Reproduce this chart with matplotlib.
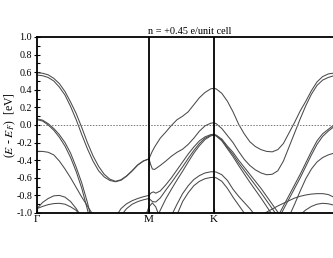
import matplotlib
matplotlib.use('Agg')
import matplotlib.pyplot as plt

plt.rcParams['font.family'] = ['Liberation Serif', 'DejaVu Serif']
plt.rcParams['mathtext.fontset'] = 'stix'
plt.rcParams['axes.unicode_minus'] = False

# high-symmetry points along the path (units of |Gamma-M|)
k_points = [0.0, 1.0, 1.577, 2.732]
k_labels = ['Γ', 'M', 'K']
title = 'n = +0.45 e/unit cell'

# bands: k values and energies (eV)
k_a1 = [0, .05, .10, .15, .20, .25, .30, .35, .40, .45, .50, .55, .60, .65, .70, .75, .80, .85, .90, .95, 1.0,
        1.025, 1.05, 1.10, 1.15, 1.20, 1.25, 1.30, 1.35, 1.40, 1.45, 1.50, 1.55, 1.577,
        1.60, 1.65, 1.70, 1.75, 1.80, 1.85, 1.90, 1.95, 2.00, 2.05, 2.10, 2.15, 2.20, 2.25, 2.30, 2.35,
        2.40, 2.45, 2.50, 2.55, 2.60, 2.65, 2.70, 2.732]
e_a1 = [.594, .588, .57, .53, .47, .38, .26, .13, -.03, -.20, -.35, -.47, -.56, -.615, -.64, -.622, -.578, -.518, -.452, -.408, -.385,
        -.31, -.25, -.15, -.08, -.005, .06, .10, .15, .23, .31, .37, .41, .417,
        .41, .36, .27, .15, .01, -.10, -.19, -.245, -.28, -.30, -.305, -.28, -.21, -.09, .03, .16,
        .27, .39, .49, .55, .58, .59, .594, .594]

k_a2 = [0, .05, .10, .15, .20, .25, .30, .35, .40, .45, .50, .55, .60, .65, .70, .75, .80, .85, .90, .95, 1.0,
        1.015, 1.03, 1.05, 1.10, 1.15, 1.20, 1.25, 1.30, 1.35, 1.40, 1.45, 1.50, 1.55, 1.577,
        1.60, 1.65, 1.70, 1.75, 1.80, 1.85, 1.90, 1.95, 2.00, 2.05, 2.10, 2.15, 2.20, 2.25, 2.30, 2.35,
        2.40, 2.45, 2.50, 2.55, 2.60, 2.65, 2.70, 2.732]
e_a2 = [.568, .56, .54, .50, .43, .34, .21, .06, -.11, -.27, -.41, -.52, -.59, -.63, -.645, -.628, -.582, -.522, -.455, -.41, -.385,
        -.45, -.50, -.505, -.46, -.41, -.355, -.31, -.275, -.22, -.15, -.07, -.01, .02, .025,
        .015, -.04, -.12, -.20, -.30, -.39, -.46, -.51, -.545, -.565, -.56, -.52, -.41, -.25, -.09, .07,
        .22, .35, .45, .51, .54, .56, .567, .568]

# dark bands near Gamma
k_b2a_gm = [0, .05, .10, .15, .20, .25, .30, .35, .40, .45, .50]
e_b2a_gm = [.07, .055, .015, -.04, -.11, -.20, -.32, -.48, -.66, -.88, -1.14]
e_b2b_gm = [.06, .045, .0, -.06, -.14, -.24, -.37, -.53, -.72, -.96, -1.2]
k_b3_gm = [0, .05, .10, .15, .20, .25, .30, .35, .40, .45, .50, .55]
e_b3_gm = [-.30, -.30, -.31, -.34, -.41, -.50, -.60, -.71, -.82, -.92, -1.02, -1.12]

k_b2a_kg = [2.10, 2.15, 2.20, 2.25, 2.30, 2.35, 2.40, 2.45, 2.50, 2.55, 2.60, 2.65, 2.70, 2.732]
e_b2a_kg = [-1.15, -1.04, -.92, -.80, -.68, -.56, -.43, -.30, -.18, -.10, -.05, 0.0, .05, .07]
k_b2b_kg = [2.15, 2.20, 2.25, 2.30, 2.35, 2.40, 2.45, 2.50, 2.55, 2.60, 2.65, 2.70, 2.732]
e_b2b_kg = [-1.08, -.96, -.84, -.72, -.60, -.47, -.34, -.22, -.13, -.07, -.02, .04, .06]
k_b3_kg = [2.25, 2.30, 2.35, 2.40, 2.45, 2.50, 2.55, 2.60, 2.65, 2.70, 2.732]
e_b3_kg = [-1.04, -.90, -.75, -.61, -.50, -.42, -.37, -.34, -.32, -.305, -.30]

# small humps near Gamma
k_hump_gm = [0, .05, .10, .15, .20, .25, .30, .35, .40]
e_hu_gm = [-.95, -.88, -.835, -.805, -.80, -.82, -.87, -.95, -1.05]
e_hl_gm = [-.95, -.925, -.905, -.893, -.89, -.90, -.93, -.97, -1.05]
k_hu_kg = [2.0, 2.05, 2.10, 2.15, 2.20, 2.25, 2.30, 2.35, 2.40, 2.45, 2.50, 2.55, 2.60, 2.65, 2.70, 2.732]
e_hu_kg = [-1.03, -.99, -.955, -.92, -.89, -.86, -.83, -.81, -.795, -.785, -.78, -.78, -.79, -.82, -.88, -.95]
k_hl_kg = [2.35, 2.40, 2.45, 2.50, 2.55, 2.60, 2.65, 2.70, 2.732]
e_hl_kg = [-1.02, -.965, -.925, -.90, -.89, -.895, -.91, -.93, -.95]

# bands meeting at K around -0.11 eV
k_d1 = [.70, .75, .80, .85, .90, .95, 1.0, 1.02, 1.04, 1.06, 1.10, 1.15, 1.20, 1.25, 1.30, 1.35, 1.40, 1.45,
        1.50, 1.55, 1.577, 1.60, 1.65, 1.70, 1.75, 1.80, 1.85, 1.90, 1.95, 2.00, 2.05, 2.10, 2.15, 2.20]
e_d1 = [-1.05, -.95, -.895, -.86, -.835, -.815, -.80, -.77, -.76, -.775, -.75, -.68, -.60, -.51, -.42, -.33, -.25, -.18,
        -.135, -.11, -.105, -.115, -.16, -.24, -.31, -.40, -.48, -.56, -.64, -.72, -.81, -.90, -.99, -1.08]
k_d2 = [.75, .80, .85, .90, .95, 1.0, 1.03, 1.06, 1.10, 1.15, 1.20, 1.25, 1.30, 1.35, 1.40, 1.45, 1.50, 1.55,
        1.577, 1.60, 1.65, 1.70, 1.75, 1.80, 1.85, 1.90, 1.95, 2.00, 2.05, 2.10, 2.15]
e_d2 = [-1.03, -.95, -.90, -.87, -.85, -.835, -.87, -.875, -.83, -.74, -.655, -.565, -.475, -.38, -.29, -.21, -.15, -.118,
        -.11, -.12, -.17, -.255, -.335, -.43, -.515, -.60, -.685, -.77, -.86, -.95, -1.04]
k_d3 = [1.08, 1.10, 1.15, 1.20, 1.25, 1.30, 1.35, 1.40, 1.45, 1.50, 1.55, 1.577,
        1.60, 1.65, 1.70, 1.75, 1.80, 1.85, 1.90, 1.95, 2.00, 2.05, 2.10]
e_d3 = [-1.03, -.97, -.84, -.73, -.625, -.525, -.42, -.32, -.235, -.165, -.125, -.115,
        -.125, -.18, -.27, -.36, -.46, -.555, -.65, -.74, -.83, -.925, -1.02]
k_lam = [.97, 1.0, 1.03, 1.06, 1.09]
e_lam = [-1.03, -.93, -.885, -.93, -1.03]

# lower humps at K
k_h1 = [1.20, 1.25, 1.30, 1.35, 1.40, 1.45, 1.50, 1.55, 1.577, 1.60, 1.65, 1.70, 1.75, 1.80, 1.85, 1.90, 1.95]
e_h1 = [-1.03, -.90, -.78, -.69, -.62, -.575, -.545, -.532, -.53, -.535, -.565, -.63, -.73, -.81, -.88, -.95, -1.03]
k_h2 = [1.25, 1.30, 1.35, 1.40, 1.45, 1.50, 1.55, 1.577, 1.60, 1.65, 1.70, 1.75, 1.80, 1.85, 1.90]
e_h2 = [-1.02, -.87, -.77, -.69, -.64, -.61, -.597, -.595, -.60, -.64, -.72, -.82, -.91, -1.0, -1.08]

bands = [
    (k_a1, e_a1), (k_a2, e_a2),
    (k_b2a_gm, e_b2a_gm), (k_b2a_gm, e_b2b_gm), (k_b3_gm, e_b3_gm),
    (k_b2a_kg, e_b2a_kg), (k_b2b_kg, e_b2b_kg), (k_b3_kg, e_b3_kg),
    (k_hump_gm, e_hu_gm), (k_hump_gm, e_hl_gm), (k_hu_kg, e_hu_kg), (k_hl_kg, e_hl_kg),
    (k_d1, e_d1), (k_d2, e_d2), (k_d3, e_d3), (k_lam, e_lam),
    (k_h1, e_h1), (k_h2, e_h2),
]

fig = plt.figure(figsize=(3.33, 2.58), dpi=100)
# axes runs past the right edge of the figure, like the reference crop
ax = fig.add_axes([37/333, 45/258, 306/333, 176/258])

for kk, ee in bands:
    ax.plot(kk, ee, color='#4a4a4a', lw=0.75)

ax.axhline(0.0, color='#777777', lw=0.7, ls=(0, (1.5, 1.5)))
for kp in k_points[1:3]:
    ax.axvline(kp, color='black', lw=1.3)

ax.set_xlim(k_points[0], k_points[-1])
ax.set_ylim(-1.0, 1.0)
ax.set_xticks(k_points[:3])
ax.set_xticklabels(k_labels, fontsize=8)
ax.tick_params(axis='x', length=3, direction='in', pad=1.5)
ax.set_yticks([-1.0, -0.8, -0.6, -0.4, -0.2, 0.0, 0.2, 0.4, 0.6, 0.8, 1.0])
ax.set_yticklabels(['%.1f' % v for v in ax.get_yticks()], fontsize=7.2)
ax.set_yticks([-0.9, -0.7, -0.5, -0.3, -0.1, 0.1, 0.3, 0.5, 0.7, 0.9], minor=True)
ax.tick_params(axis='y', which='major', length=4, direction='inout', pad=1.5, width=0.8)
ax.tick_params(axis='y', which='minor', length=2.5, direction='in', width=0.8)
for s in ax.spines.values():
    s.set_linewidth(1.3)

ax.set_ylabel('(' + r'$E$' + ' - ' + r'$E_F$' + ')  [eV]', fontsize=8.5)
ax.yaxis.set_label_coords(-0.063, 0.5)
ax.set_title(title, fontsize=7.4, pad=2.5)

fig.savefig('out.png', dpi=100)
